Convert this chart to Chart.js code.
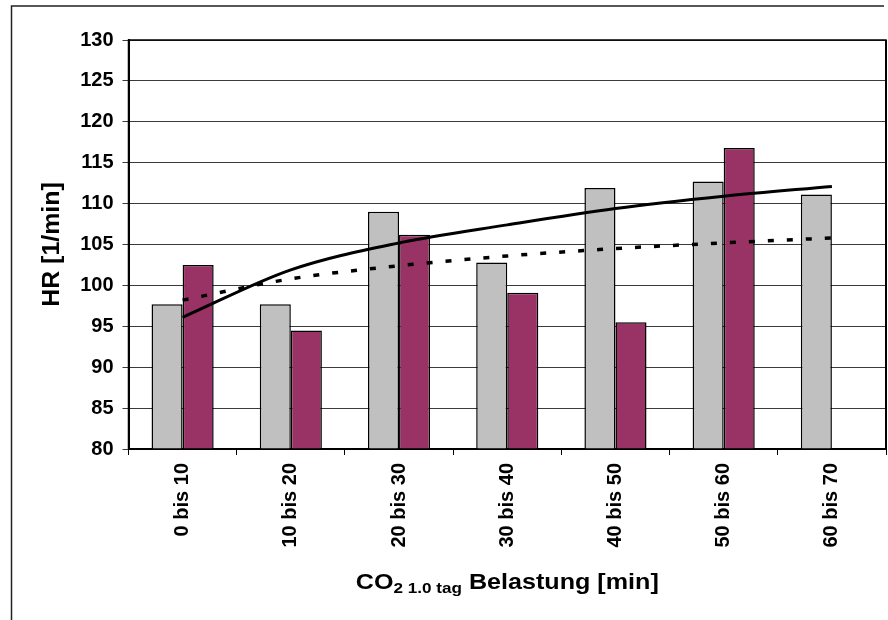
<!DOCTYPE html>
<html>
<head>
<meta charset="utf-8">
<script src="https://cdn.jsdelivr.net/npm/chart.js"></script>
<style>
  html, body { margin: 0; padding: 0; background: #fff; }
  #wrap { width: 888px; height: 620px; }
</style>
</head>
<body>
<div id="wrap"><canvas id="hr" width="888" height="620"></canvas></div>
<script>
// categories and values
const categories = ["0 bis 10", "10 bis 20", "20 bis 30", "30 bis 40", "40 bis 50", "50 bis 60", "60 bis 70"];
const greyBars = [97.7, 97.7, 109.0, 102.8, 111.9, 112.7, 111.1];
const purpleBars = [102.5, 94.5, 106.2, 99.1, 95.5, 116.8, null];
const trendSolid = [96.1, 101.9, 105.2, 107.4, 109.4, 110.9, 112.1];
const trendDashed = [98.2, 100.8, 102.4, 103.6, 104.5, 105.2, 105.8];
const yTicks = { min: 80, max: 130, step: 5 };

const FONT = "'Liberation Sans', Arial, sans-serif";

// frame, plot border and the two axis titles (subscript needs manual drawing)
const decor = {
  id: "decor",
  beforeDraw(chart) {
    const ctx = chart.ctx;
    ctx.save();
    ctx.fillStyle = "#fff";
    ctx.fillRect(0, 0, chart.width, chart.height);
    ctx.strokeStyle = "#222";
    ctx.lineWidth = 1.5;
    ctx.beginPath();
    ctx.moveTo(11.5, 620);
    ctx.lineTo(11.5, 6);
    ctx.lineTo(884, 6);
    ctx.stroke();
    ctx.restore();
  },
  afterDraw(chart) {
    const ctx = chart.ctx;
    const a = chart.chartArea;
    ctx.save();
    ctx.strokeStyle = "#000";
    ctx.lineWidth = 1.5;
    ctx.strokeRect(a.left, a.top, a.right - a.left, a.bottom - a.top);
    ctx.lineWidth = 2;
    ctx.beginPath();
    ctx.moveTo(a.right, a.top);
    ctx.lineTo(a.right, a.bottom);
    ctx.stroke();

    // y title
    ctx.fillStyle = "#000";
    ctx.save();
    ctx.translate(59, (a.top + a.bottom) / 2);
    ctx.rotate(-Math.PI / 2);
    ctx.scale(1.06, 1);
    ctx.font = "bold 23.5px " + FONT;
    ctx.textAlign = "center";
    ctx.textBaseline = "alphabetic";
    ctx.fillText("HR [1/min]", 0, 0);
    ctx.restore();

    // x title with subscript
    const parts = [
      { t: "CO", f: "bold 22px " + FONT, dy: 0 },
      { t: "2 1.0 tag", f: "bold 15px " + FONT, dy: 4 },
      { t: " Belastung [min]", f: "bold 22px " + FONT, dy: 0 }
    ];
    let total = 0;
    parts.forEach(p => { ctx.font = p.f; p.w = ctx.measureText(p.t).width; total += p.w; });
    const sx = 303 / total;
    const cx = (a.left + a.right) / 2;
    ctx.save();
    ctx.translate(cx - total * sx / 2, 589);
    ctx.scale(sx, 1);
    let x = 0;
    ctx.textAlign = "left";
    parts.forEach(p => {
      ctx.font = p.f;
      ctx.fillText(p.t, x, p.dy);
      x += p.w;
    });
    ctx.restore();
    ctx.restore();
  }
};

new Chart(document.getElementById("hr"), {
  type: "bar",
  data: {
    labels: categories,
    datasets: [
      {
        type: "line", data: trendSolid, borderColor: "#000", borderWidth: 3,
        pointRadius: 0, cubicInterpolationMode: "monotone", order: 0
      },
      {
        type: "line", data: trendDashed, borderColor: "#000", borderWidth: 3.5,
        borderDash: [6, 13], borderCapStyle: "butt",
        pointRadius: 0, cubicInterpolationMode: "monotone", order: 1
      },
      {
        data: greyBars, backgroundColor: "#C0C0C0", borderColor: "#000",
        borderWidth: 1.5, borderSkipped: false,
        barPercentage: 1, categoryPercentage: 0.574, order: 2
      },
      {
        data: purpleBars, backgroundColor: "#993366", borderColor: "#000",
        borderWidth: 1.5, borderSkipped: false,
        barPercentage: 1, categoryPercentage: 0.574, order: 3
      }
    ]
  },
  options: {
    responsive: false,
    animation: false,
    layout: { padding: { top: 40, right: 2, left: 0, bottom: 0 } },
    plugins: { legend: { display: false }, tooltip: { enabled: false }, title: { display: false } },
    scales: {
      x: {
        afterFit: (s) => { s.height = 171; },
        grid: { offset: true, drawOnChartArea: false, tickLength: 6, color: "#000", lineWidth: 1 },
        border: { color: "#000", width: 2 },
        ticks: {
          minRotation: 90, maxRotation: 90, padding: 8, color: "#000",
          font: { family: FONT, size: 20, weight: "bold" }
        }
      },
      y: {
        min: yTicks.min, max: yTicks.max,
        afterFit: (s) => { s.width = 128.5; },
        grid: { color: "#3a3a3a", lineWidth: 1, tickLength: 6 },
        border: { color: "#000", width: 2 },
        ticks: {
          stepSize: yTicks.step, padding: 9, color: "#000",
          font: { family: FONT, size: 20, weight: "bold" }
        }
      }
    }
  },
  plugins: [decor]
});
</script>
</body>
</html>
